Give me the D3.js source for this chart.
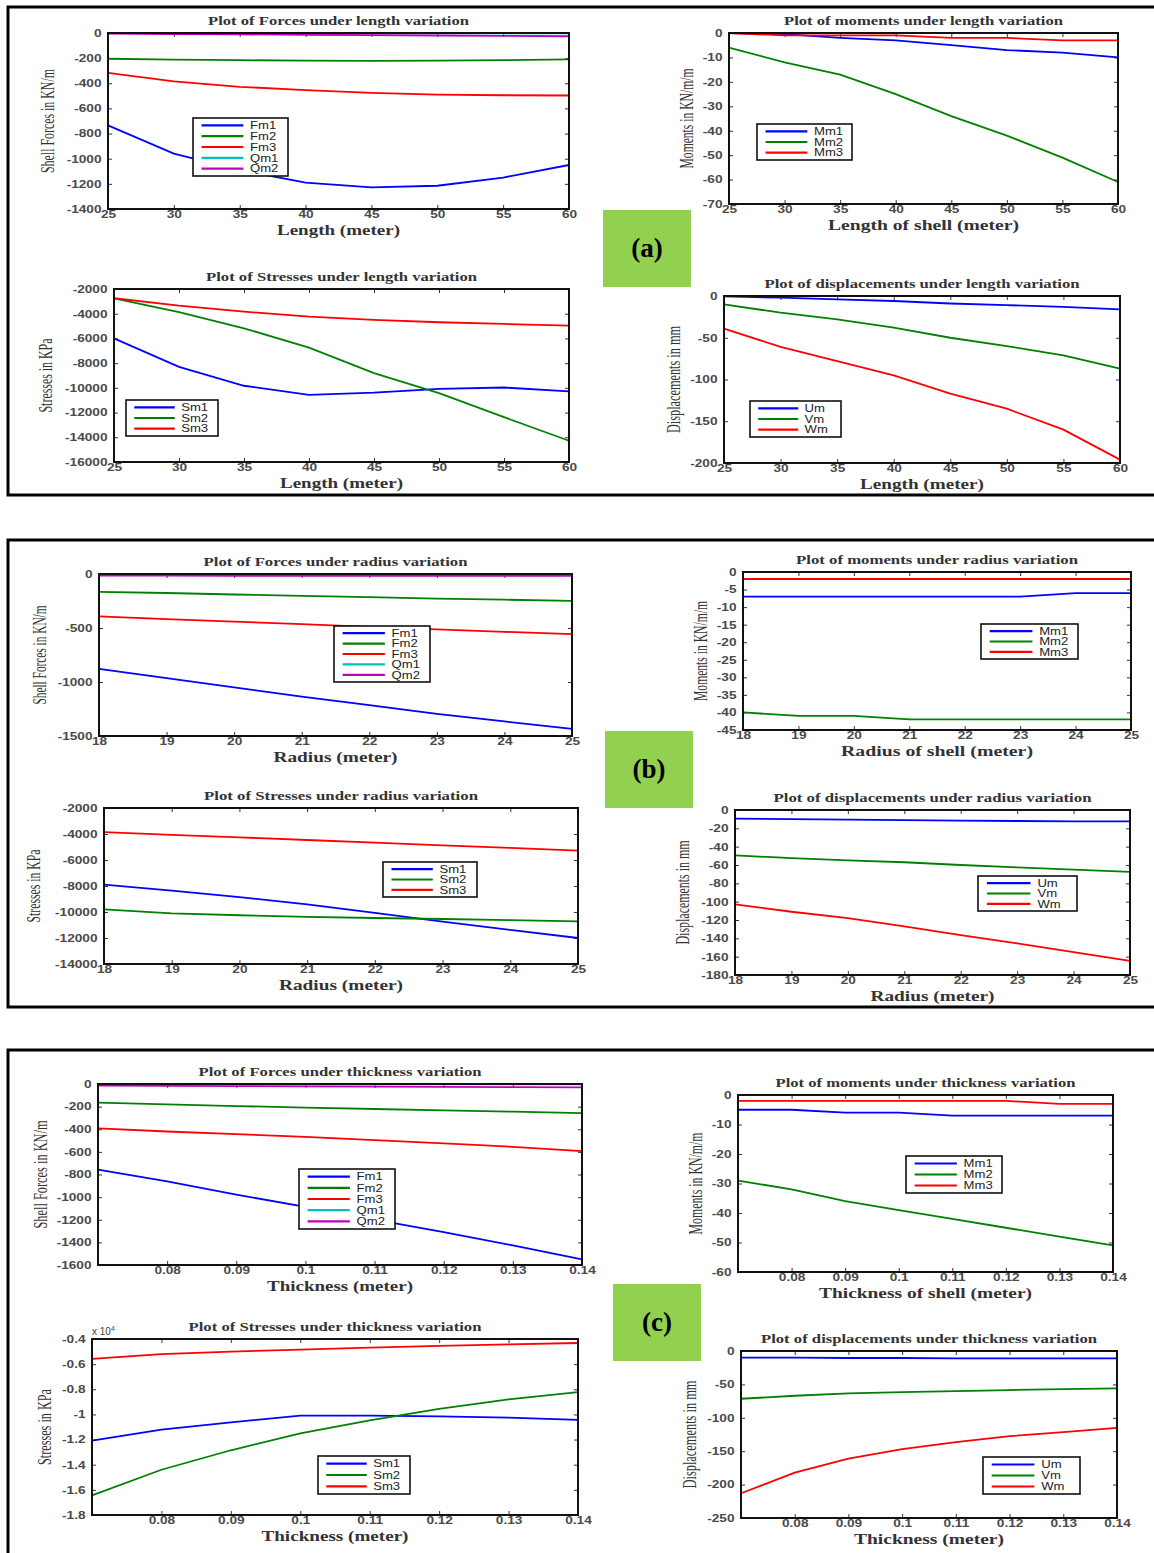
<!doctype html>
<html>
<head>
<meta charset="utf-8">
<script src="https://d3js.org/d3.v7.min.js"></script>
<style>
    body { margin: 0; background: #fff; }
    svg { display: block; }
    .tick text { font-family: "Liberation Sans", Arial, sans-serif; font-size: 10.5px; font-weight: bold; fill: #4a4a4a; }
    .ttl { font-family: "Liberation Serif", "Times New Roman", serif; font-weight: bold; font-size: 13px; fill: #333; }
    .xlab { font-family: "Liberation Serif", "Times New Roman", serif; font-weight: bold; font-size: 15px; fill: #333; }
    .ylab { font-family: "Liberation Serif", "Times New Roman", serif; font-size: 18px; fill: #333; }
    .leg { font-family: "Liberation Sans", Arial, sans-serif; font-size: 10.5px; fill: #222; }
</style>
</head>
<body>
<svg id="fig" width="1154" height="1553"></svg>
<script>

    // x values of the three parameter studies
    var lengthX = [25, 30, 35, 40, 45, 50, 55, 60];
    var radiusX = [18, 19, 20, 21, 22, 23, 24, 25];
    var thickX = [0.07, 0.08, 0.09, 0.10, 0.11, 0.12, 0.13, 0.14];

    var lengthTicks = [25, 30, 35, 40, 45, 50, 55, 60];
    var radiusTicks = [18, 19, 20, 21, 22, 23, 24, 25];
    var thickTicks = [0.08, 0.09, 0.1, 0.11, 0.12, 0.13, 0.14];

    // (a) length variation
    var lenFm1 = [-735, -960, -1090, -1190, -1228, -1215, -1150, -1050];
    var lenFm2 = [-205, -212, -216, -220, -222, -220, -216, -210];
    var lenFm3 = [-318, -385, -428, -454, -477, -490, -495, -497];
    var lenQm1 = [-1, -1, -1, -2, -2, -2, -2, -2];
    var lenQm2 = [-4, -8, -11, -14, -17, -20, -23, -26];

    var lenMm1 = [0, -0.5, -2, -3, -5, -7, -8, -10];
    var lenMm2 = [-6, -12, -17, -25, -34, -42, -51, -61];
    var lenMm3 = [0, -1, -1, -1, -2, -2, -3, -3];

    var lenSm1 = [-6000, -8300, -9830, -10560, -10380, -10080, -9970, -10290];
    var lenSm2 = [-2750, -3880, -5180, -6740, -8810, -10430, -12370, -14280];
    var lenSm3 = [-2750, -3350, -3830, -4240, -4500, -4690, -4830, -4960];

    var lenUm = [-0.5, -2, -4, -6, -9, -11, -13, -16];
    var lenVm = [-10, -20, -28, -38, -50, -60, -71, -87];
    var lenWm = [-39, -61, -78, -95, -117, -135, -160, -196];

    // (b) radius variation
    var radFm1 = [-878, -965, -1050, -1135, -1215, -1295, -1365, -1435];
    var radFm2 = [-165, -176, -190, -203, -215, -228, -238, -248];
    var radFm3 = [-393, -417, -441, -465, -489, -512, -535, -557];
    var radQm1 = [-1, -1, -1, -1, -2, -2, -2, -2];
    var radQm2 = [-15, -15, -16, -16, -17, -17, -18, -18];

    var radMm1 = [-7, -7, -7, -7, -7, -7, -6, -6];
    var radMm2 = [-40, -41, -41, -42, -42, -42, -42, -42];
    var radMm3 = [-2, -2, -2, -2, -2, -2, -2, -2];

    var radSm1 = [-7900, -8350, -8850, -9420, -10060, -10740, -11380, -12000];
    var radSm2 = [-9800, -10100, -10250, -10380, -10460, -10540, -10620, -10720];
    var radSm3 = [-3850, -4060, -4260, -4460, -4660, -4870, -5070, -5280];

    var radUm = [-9.5, -10, -10.5, -11, -11.5, -12, -12.5, -12.5];
    var radVm = [-49.5, -52.5, -55, -57, -60, -62.5, -65, -67.5];
    var radWm = [-103, -111, -118, -127, -136.5, -145.5, -155, -164.5];

    // (c) thickness variation
    var thkFm1 = [-757, -860, -978, -1086, -1198, -1309, -1427, -1550];
    var thkFm2 = [-164, -180, -195, -208, -221, -233, -245, -258];
    var thkFm3 = [-393, -420, -443, -467, -496, -525, -555, -593];
    var thkQm1 = [-1, -1, -1, -2, -2, -2, -3, -3];
    var thkQm2 = [-15, -17, -19, -21, -23, -25, -27, -29];

    var thkMm1 = [-5, -5, -6, -6, -7, -7, -7, -7];
    var thkMm2 = [-29, -32, -36, -39, -42, -45, -48, -51];
    var thkMm3 = [-2, -2, -2, -2, -2, -2, -3, -3];

    var thkSm1 = [-12080, -11210, -10630, -10100, -10100, -10150, -10260, -10440];
    var thkSm2 = [-16440, -14400, -12850, -11500, -10470, -9550, -8800, -8230];
    var thkSm3 = [-5580, -5210, -5000, -4850, -4690, -4550, -4420, -4320];

    var thkUm = [-10, -10, -10.5, -10.5, -11, -11, -11, -11];
    var thkVm = [-71.5, -67, -63.5, -61.5, -60, -58.5, -57, -56];
    var thkWm = [-213, -182, -161, -147, -136.5, -127.5, -121.5, -115];

    // y tick values
    var yForceLen = [0, -200, -400, -600, -800, -1000, -1200, -1400];
    var yMomLen = [0, -10, -20, -30, -40, -50, -60, -70];
    var yStressLen = [-2000, -4000, -6000, -8000, -10000, -12000, -14000, -16000];
    var yDispLen = [0, -50, -100, -150, -200];
    var yForceRad = [0, -500, -1000, -1500];
    var yMomRad = [0, -5, -10, -15, -20, -25, -30, -35, -40, -45];
    var yStressRad = [-2000, -4000, -6000, -8000, -10000, -12000, -14000];
    var yDispRad = [0, -20, -40, -60, -80, -100, -120, -140, -160, -180];
    var yForceThk = [0, -200, -400, -600, -800, -1000, -1200, -1400, -1600];
    var yMomThk = [0, -10, -20, -30, -40, -50, -60];
    var yStressThk = [-4000, -6000, -8000, -10000, -12000, -14000, -16000, -18000];
    var yDispThk = [0, -50, -100, -150, -200, -250];

    var BLUE = "#0000ff", GREEN = "#008000", RED = "#ff0000", CYAN = "#00bfbf", MAG = "#bf00bf";

    var svg = d3.select("#fig");

    // panel frames and the green labels
    function panel(y0, y1, label, lx, ly) {
        svg.append("rect")
            .attr("x", 8).attr("y", y0)
            .attr("width", 1160).attr("height", y1 - y0)
            .attr("fill", "none").attr("stroke", "#000").attr("stroke-width", 3);
        svg.append("rect")
            .attr("x", lx).attr("y", ly).attr("width", 88).attr("height", 77)
            .attr("fill", "#92d050");
        svg.append("text")
            .attr("x", lx + 44).attr("y", ly + 38)
            .attr("dy", "0.35em")
            .attr("text-anchor", "middle")
            .style("font-family", "'Liberation Serif', 'Times New Roman', serif")
            .style("font-weight", "bold").style("font-size", "27px")
            .text(label);
    }
    panel(7, 495, "(a)", 603, 210);
    panel(540, 1007, "(b)", 605, 731);
    panel(1050, 1600, "(c)", 613, 1284);

    function drawPlot(o) {
        var l = o.box[0], t = o.box[1], r = o.box[2], b = o.box[3];
        var x = d3.scaleLinear().domain(o.xDomain).range([l, r]);
        var y = d3.scaleLinear().domain(o.yDomain).range([t, b]);
        var g = svg.append("g");
        var yFmt = o.yFmt || function (d) { return String(d); };

        var leftAx = g.append("g")
            .attr("transform", "translate(" + l + ",0)")
            .call(d3.axisLeft(y).tickValues(o.yTicks).tickSize(-4).tickPadding(5).tickFormat(yFmt));
        g.append("g")
            .attr("transform", "translate(" + r + ",0)")
            .call(d3.axisRight(y).tickValues(o.yTicks).tickSize(-4).tickFormat(""));
        var botAx = g.append("g")
            .attr("transform", "translate(0," + b + ")")
            .call(d3.axisBottom(x).tickValues(o.xTicks).tickSize(-4).tickPadding(2)
                .tickFormat(function (d) { return String(d); }));
        g.append("g")
            .attr("transform", "translate(0," + t + ")")
            .call(d3.axisTop(x).tickValues(o.xTicks).tickSize(-4).tickFormat(""));
        g.selectAll(".domain").remove();
        g.selectAll(".tick line").attr("stroke", "#333").attr("stroke-width", 1);
        leftAx.selectAll("text").attr("transform", "scale(1.3,1)");
        botAx.selectAll("text").attr("transform", "scale(1.3,1)");

        var line = d3.line()
            .x(function (d, i) { return x(o.x[i]); })
            .y(function (d) { return y(d); });

        o.series.forEach(function (s) {
            g.append("path")
                .datum(s.values)
                .attr("d", line)
                .attr("fill", "none")
                .attr("stroke", s.color)
                .attr("stroke-width", 1.8);
        });

        g.append("rect")
            .attr("x", l).attr("y", t)
            .attr("width", r - l).attr("height", b - t)
            .attr("fill", "none").attr("stroke", "#111").attr("stroke-width", 2);

        // legend
        var lg = o.legend;
        g.append("rect")
            .attr("x", lg[0]).attr("y", lg[1])
            .attr("width", lg[2]).attr("height", lg[3])
            .attr("fill", "#fff").attr("stroke", "#111").attr("stroke-width", 1.6);
        var n = o.series.length;
        var step = (lg[3] - 4) / n;
        o.series.forEach(function (s, i) {
            var yy = lg[1] + 2 + step * (i + 0.5);
            g.append("line")
                .attr("x1", lg[0] + lg[2] * 0.09).attr("x2", lg[0] + lg[2] * 0.53)
                .attr("y1", yy).attr("y2", yy)
                .attr("stroke", s.color).attr("stroke-width", 2.2);
            var tx = lg[0] + lg[2] * 0.6;
            g.append("text")
                .attr("class", "leg")
                .attr("transform", "translate(" + tx + "," + yy + ") scale(1.25,1)")
                .attr("dy", "0.36em")
                .text(s.name);
        });

        // texts
        g.append("text")
            .attr("class", "ttl")
            .attr("x", (l + r) / 2).attr("y", t - 8)
            .attr("text-anchor", "middle")
            .attr("textLength", o.titleW).attr("lengthAdjust", "spacingAndGlyphs")
            .text(o.title);
        g.append("text")
            .attr("class", "xlab")
            .attr("x", (l + r) / 2).attr("y", b + 26)
            .attr("text-anchor", "middle")
            .attr("textLength", o.xlabW).attr("lengthAdjust", "spacingAndGlyphs")
            .text(o.xlab);
        g.append("text")
            .attr("class", "ylab")
            .attr("transform", "translate(" + o.ylabX + "," + (t + b) / 2 + ") rotate(-90)")
            .attr("dy", "0.35em")
            .attr("text-anchor", "middle")
            .attr("textLength", o.ylabW).attr("lengthAdjust", "spacingAndGlyphs")
            .text(o.ylab);

        if (o.expo) {
            var ex = g.append("text")
                .attr("x", l).attr("y", t - 4)
                .style("font-family", "'Liberation Sans', Arial, sans-serif")
                .style("font-size", "10px").style("fill", "#444");
            ex.append("tspan").text("x 10");
            ex.append("tspan").attr("dy", -4).style("font-size", "7px").text("4");
        }
    }

    function forces(a, b, c, d, e) {
        return [
            { name: "Fm1", values: a, color: BLUE },
            { name: "Fm2", values: b, color: GREEN },
            { name: "Fm3", values: c, color: RED },
            { name: "Qm1", values: d, color: CYAN },
            { name: "Qm2", values: e, color: MAG }
        ];
    }
    function trio(names, a, b, c) {
        return [
            { name: names[0], values: a, color: BLUE },
            { name: names[1], values: b, color: GREEN },
            { name: names[2], values: c, color: RED }
        ];
    }
    var M = ["Mm1", "Mm2", "Mm3"], S = ["Sm1", "Sm2", "Sm3"], U = ["Um", "Vm", "Wm"];

    // ---- (a) ----
    drawPlot({
        box: [108, 33, 569, 209], x: lengthX, xDomain: [25, 60], xTicks: lengthTicks,
        yDomain: [0, -1400], yTicks: yForceLen, series: forces(lenFm1, lenFm2, lenFm3, lenQm1, lenQm2),
        title: "Plot of Forces under length variation", titleW: 261,
        xlab: "Length (meter)", xlabW: 123, ylab: "Shell Forces in KN/m", ylabW: 104, ylabX: 48,
        legend: [193, 118, 95, 58]
    });
    drawPlot({
        box: [729, 33, 1118, 204], x: lengthX, xDomain: [25, 60], xTicks: lengthTicks,
        yDomain: [0, -70], yTicks: yMomLen, series: trio(M, lenMm1, lenMm2, lenMm3),
        title: "Plot of moments under length variation", titleW: 279,
        xlab: "Length of shell (meter)", xlabW: 191, ylab: "Moments in KN/m/m", ylabW: 100, ylabX: 687,
        legend: [757, 124, 95, 36]
    });
    drawPlot({
        box: [114, 289, 569, 462], x: lengthX, xDomain: [25, 60], xTicks: lengthTicks,
        yDomain: [-2000, -16000], yTicks: yStressLen, series: trio(S, lenSm1, lenSm2, lenSm3),
        title: "Plot of Stresses under length variation", titleW: 271,
        xlab: "Length (meter)", xlabW: 123, ylab: "Stresses in KPa", ylabW: 74, ylabX: 46,
        legend: [126, 400, 92, 36]
    });
    drawPlot({
        box: [724, 296, 1120, 463], x: lengthX, xDomain: [25, 60], xTicks: lengthTicks,
        yDomain: [0, -200], yTicks: yDispLen, series: trio(U, lenUm, lenVm, lenWm),
        title: "Plot of displacements under length variation", titleW: 315,
        xlab: "Length (meter)", xlabW: 124, ylab: "Displacements in mm", ylabW: 107, ylabX: 674,
        legend: [750, 401, 91, 36]
    });

    // ---- (b) ----
    drawPlot({
        box: [99, 574, 572, 736], x: radiusX, xDomain: [18, 25], xTicks: radiusTicks,
        yDomain: [0, -1500], yTicks: yForceRad, series: forces(radFm1, radFm2, radFm3, radQm1, radQm2),
        title: "Plot of Forces under radius variation", titleW: 264,
        xlab: "Radius (meter)", xlabW: 124, ylab: "Shell Forces in KN/m", ylabW: 99, ylabX: 40,
        legend: [334, 626, 96, 56]
    });
    drawPlot({
        box: [743, 572, 1131, 730], x: radiusX, xDomain: [18, 25], xTicks: radiusTicks,
        yDomain: [0, -45], yTicks: yMomRad, series: trio(M, radMm1, radMm2, radMm3),
        title: "Plot of moments under radius variation", titleW: 282,
        xlab: "Radius of shell (meter)", xlabW: 192, ylab: "Moments in KN/m/m", ylabW: 100, ylabX: 701,
        legend: [981, 624, 97, 35]
    });
    drawPlot({
        box: [104, 808, 578, 964], x: radiusX, xDomain: [18, 25], xTicks: radiusTicks,
        yDomain: [-2000, -14000], yTicks: yStressRad, series: trio(S, radSm1, radSm2, radSm3),
        title: "Plot of Stresses under radius variation", titleW: 274,
        xlab: "Radius (meter)", xlabW: 124, ylab: "Stresses in KPa", ylabW: 73, ylabX: 34,
        legend: [383, 862, 94, 35]
    });
    drawPlot({
        box: [735, 810, 1130, 975], x: radiusX, xDomain: [18, 25], xTicks: radiusTicks,
        yDomain: [0, -180], yTicks: yDispRad, series: trio(U, radUm, radVm, radWm),
        title: "Plot of displacements under radius variation", titleW: 318,
        xlab: "Radius (meter)", xlabW: 124, ylab: "Displacements in mm", ylabW: 104, ylabX: 683,
        legend: [978, 876, 99, 35]
    });

    // ---- (c) ----
    drawPlot({
        box: [98, 1084, 582, 1265], x: thickX, xDomain: [0.07, 0.14], xTicks: thickTicks,
        yDomain: [0, -1600], yTicks: yForceThk, series: forces(thkFm1, thkFm2, thkFm3, thkQm1, thkQm2),
        title: "Plot of Forces under thickness variation", titleW: 283,
        xlab: "Thickness (meter)", xlabW: 146, ylab: "Shell Forces in KN/m", ylabW: 108, ylabX: 41,
        legend: [299, 1169, 96, 60]
    });
    drawPlot({
        box: [738, 1095, 1113, 1272], x: thickX, xDomain: [0.07, 0.14], xTicks: thickTicks,
        yDomain: [0, -60], yTicks: yMomThk, series: trio(M, thkMm1, thkMm2, thkMm3),
        title: "Plot of moments under thickness variation", titleW: 300,
        xlab: "Thickness of shell (meter)", xlabW: 213, ylab: "Moments in KN/m/m", ylabW: 102, ylabX: 696,
        legend: [906, 1156, 96, 37]
    });
    drawPlot({
        box: [92, 1339, 578, 1515], x: thickX, xDomain: [0.07, 0.14], xTicks: thickTicks,
        yDomain: [-4000, -18000], yTicks: yStressThk, series: trio(S, thkSm1, thkSm2, thkSm3),
        yFmt: function (d) { return String(d / 10000); }, expo: true,
        title: "Plot of Stresses under thickness variation", titleW: 293,
        xlab: "Thickness (meter)", xlabW: 147, ylab: "Stresses in KPa", ylabW: 76, ylabX: 45,
        legend: [318, 1456, 92, 38]
    });
    drawPlot({
        box: [741, 1351, 1117, 1518], x: thickX, xDomain: [0.07, 0.14], xTicks: thickTicks,
        yDomain: [0, -250], yTicks: yDispThk, series: trio(U, thkUm, thkVm, thkWm),
        title: "Plot of displacements under thickness variation", titleW: 336,
        xlab: "Thickness (meter)", xlabW: 150, ylab: "Displacements in mm", ylabW: 108, ylabX: 690,
        legend: [983, 1457, 97, 37]
    });

</script>
</body>
</html>
